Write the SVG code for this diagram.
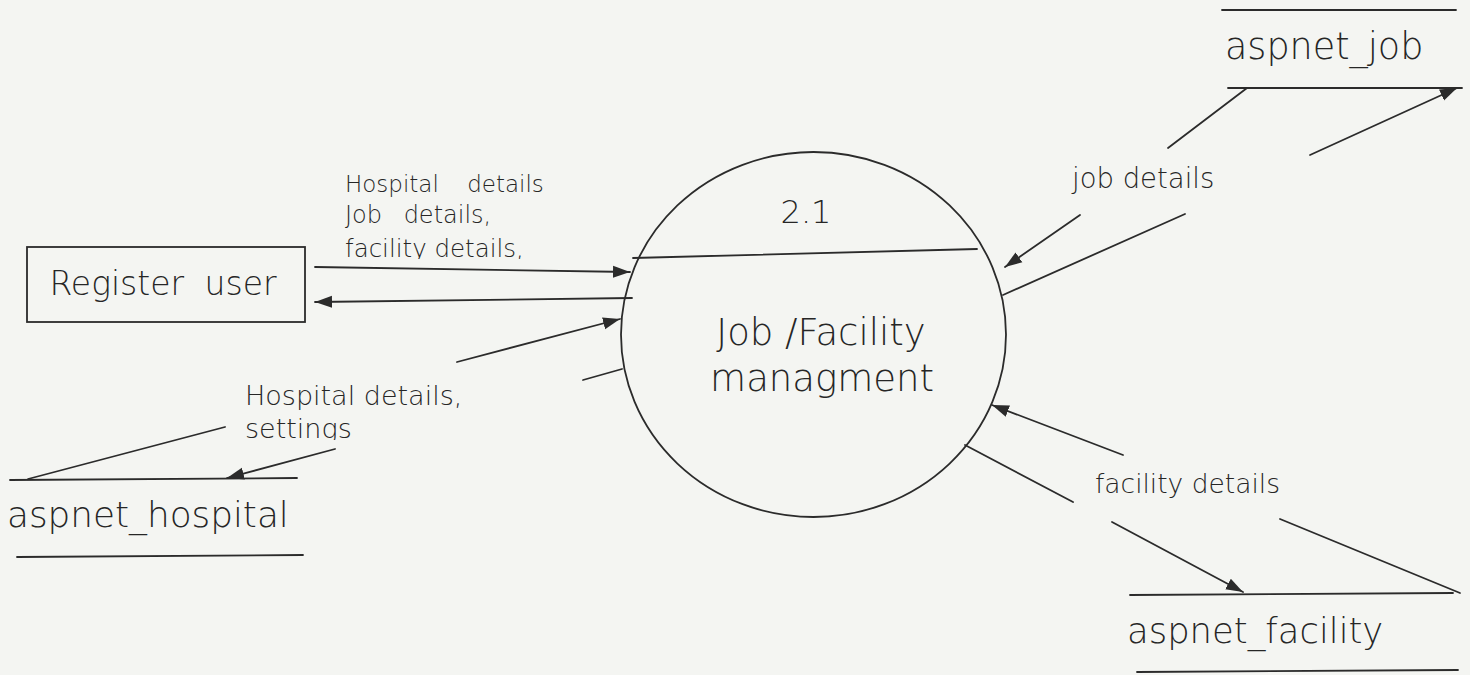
<svg xmlns="http://www.w3.org/2000/svg" width="1470" height="675" viewBox="0 0 1470 675">
<style>
.bg{fill:#f4f5f2}
.ln{stroke:#2b2b2b;stroke-width:1.8;fill:none;stroke-linecap:round}
.t{font-family:"DejaVu Sans","Liberation Sans",sans-serif;fill:#262626;font-weight:300}
</style>
<defs>
<marker id="ah" markerUnits="userSpaceOnUse" markerWidth="18" markerHeight="14" refX="17" refY="7" orient="auto">
<path d="M0,1 L17,7 L0,13 z" fill="#2b2b2b"/>
</marker>
<clipPath id="clipFac"><rect x="300" y="200" width="300" height="59"/></clipPath>
<clipPath id="clipSet"><rect x="200" y="400" width="200" height="40"/></clipPath>
</defs>
<rect class="bg" x="0" y="0" width="1470" height="675"/>

<g id="register-user">
<rect class="ln" x="27" y="247" width="278" height="75" stroke-linecap="butt"/>
<text class="t" x="163" y="295" font-size="33" text-anchor="middle" word-spacing="10">Register user</text>
</g>

<g id="process-2-1">
<ellipse class="ln" cx="813.5" cy="334.5" rx="192.5" ry="182.5"/>
<line class="ln" x1="633" y1="258" x2="977" y2="249"/>
<text class="t" x="806" y="223" font-size="32" text-anchor="middle">2.1</text>
<text class="t" x="821" y="345" font-size="37" text-anchor="middle">Job /Facility</text>
<text class="t" x="822" y="391" font-size="37" text-anchor="middle">managment</text>
</g>

<g id="store-job">
<line class="ln" x1="1222" y1="10" x2="1456" y2="10"/>
<line class="ln" x1="1228" y1="88" x2="1462" y2="88"/>
<text class="t" x="1225" y="59" font-size="36.5">aspnet_job</text>
</g>

<g id="store-hospital">
<line class="ln" x1="10" y1="480" x2="297" y2="478"/>
<line class="ln" x1="17" y1="557" x2="303" y2="555"/>
<text class="t" x="7" y="527" font-size="35.8">aspnet_hospital</text>
</g>

<g id="store-facility">
<line class="ln" x1="1130" y1="595" x2="1453" y2="593"/>
<line class="ln" x1="1137" y1="672" x2="1458" y2="670"/>
<text class="t" x="1127" y="643" font-size="35.4">aspnet_facility</text>
</g>

<g id="connectors">
<line class="ln" x1="315" y1="267" x2="630" y2="272" marker-end="url(#ah)"/>
<line class="ln" x1="632" y1="298" x2="315" y2="302" marker-end="url(#ah)"/>
<line class="ln" x1="457" y1="362" x2="620" y2="319" marker-end="url(#ah)"/>
<line class="ln" x1="583" y1="380" x2="622" y2="369"/>
<line class="ln" x1="28" y1="479" x2="225" y2="427"/>
<line class="ln" x1="335" y1="449" x2="227" y2="478" marker-end="url(#ah)"/>
<line class="ln" x1="1080" y1="215" x2="1005" y2="267" marker-end="url(#ah)"/>
<line class="ln" x1="1185" y1="214" x2="1003" y2="295"/>
<line class="ln" x1="1247" y1="88" x2="1168" y2="148"/>
<line class="ln" x1="1310" y1="155" x2="1457" y2="88" marker-end="url(#ah)"/>
<line class="ln" x1="1123" y1="455" x2="992" y2="405" marker-end="url(#ah)"/>
<line class="ln" x1="965" y1="445" x2="1073" y2="502"/>
<line class="ln" x1="1112" y1="522" x2="1243" y2="592" marker-end="url(#ah)"/>
<line class="ln" x1="1280" y1="519" x2="1460" y2="593"/>

<text class="t" x="345" y="192" font-size="23" word-spacing="21">Hospital details</text>
<text class="t" x="345" y="223" font-size="24" word-spacing="14">Job details,</text>
<text class="t" x="345" y="257" font-size="24.5" clip-path="url(#clipFac)">facility details,</text>
<text class="t" x="245" y="405" font-size="27">Hospital details,</text>
<text class="t" x="245" y="438" font-size="27" clip-path="url(#clipSet)">settings</text>
<text class="t" x="1072" y="188" font-size="27.5">job details</text>
<text class="t" x="1095" y="493" font-size="26.5">facility details</text>
</g>
</svg>
